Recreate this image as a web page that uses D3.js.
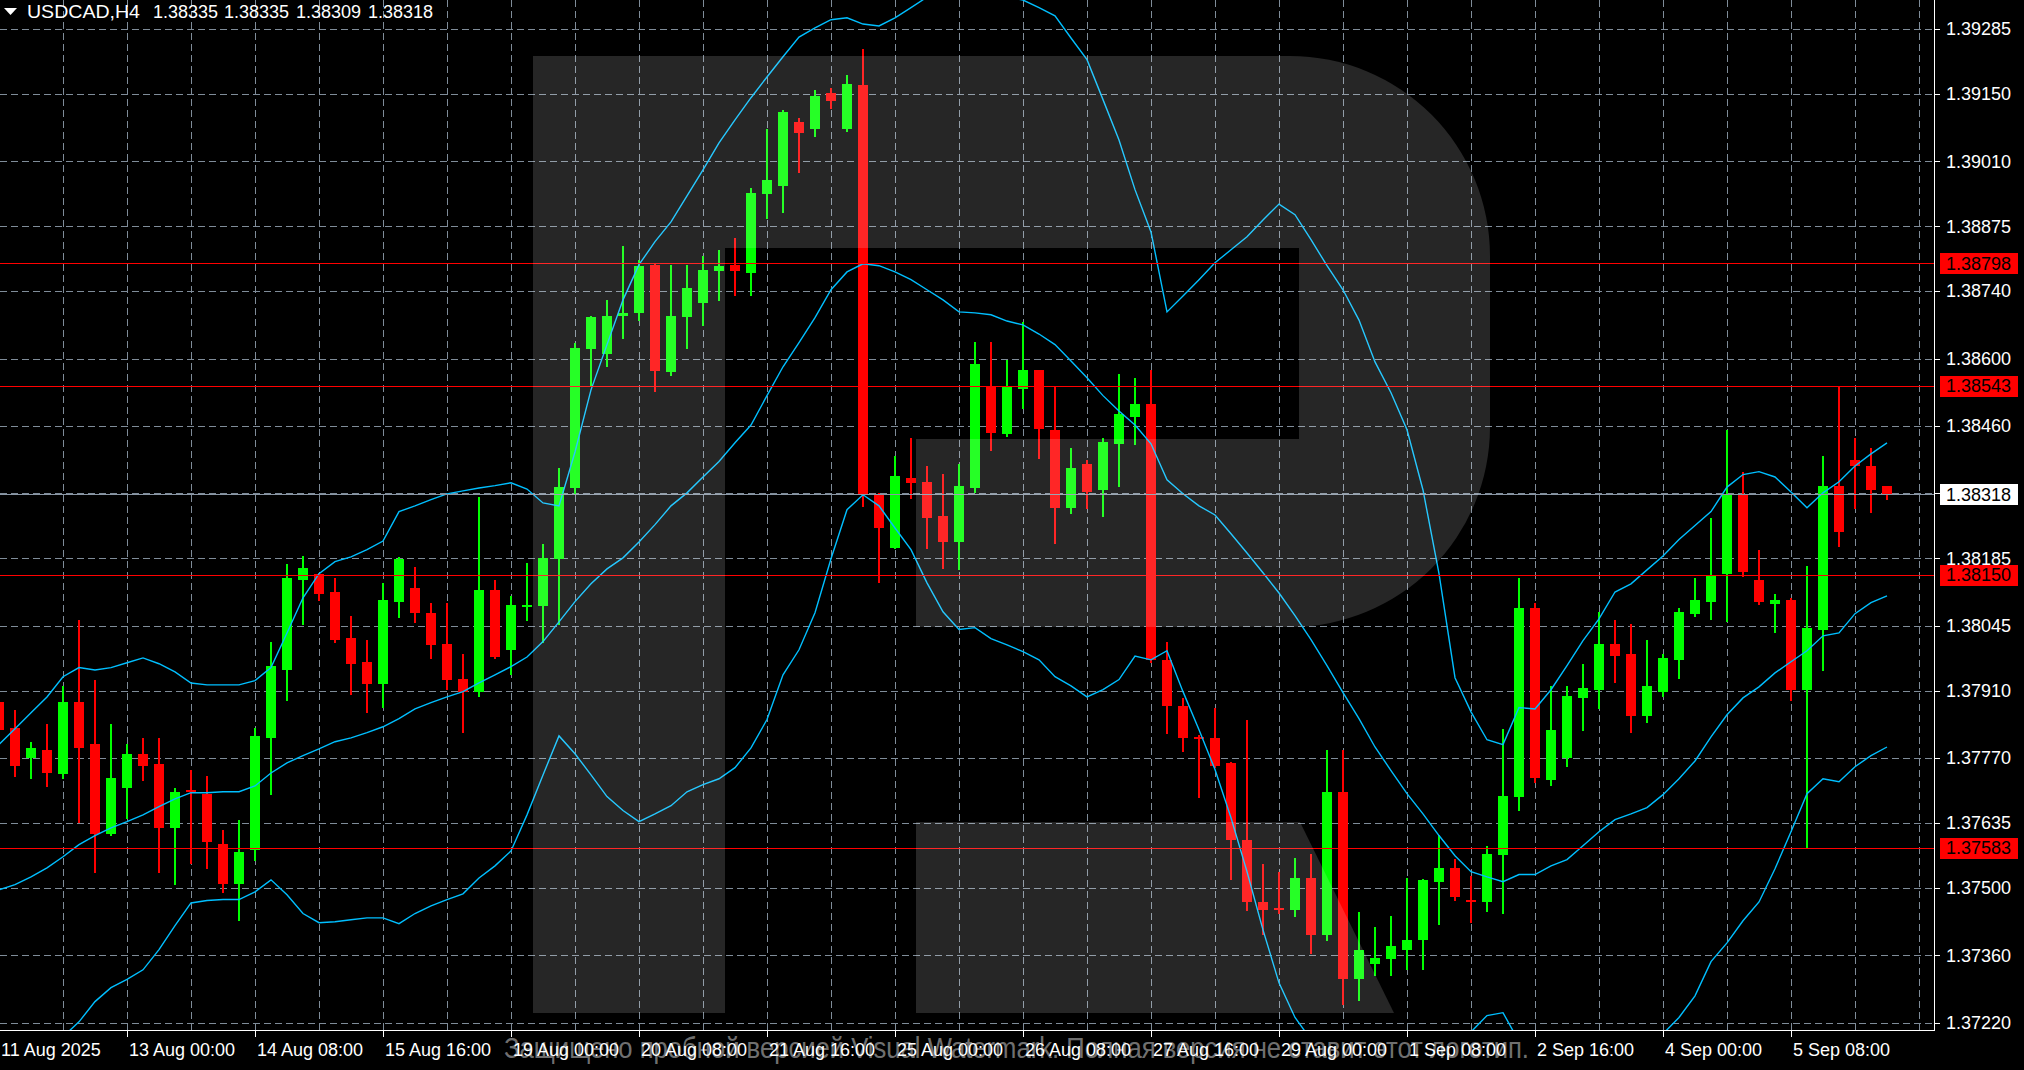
<!DOCTYPE html>
<html><head><meta charset="utf-8">
<script src="https://cdn.jsdelivr.net/npm/d3@7"></script>
<style>html,body{margin:0;padding:0;background:#000;overflow:hidden}</style>
</head><body>
<script>
// ---------- DATA ----------
const symbolTitle = "USDCAD,H4";
const headerPrices = ["1.38335", "1.38335", "1.38309", "1.38318"];

const open = [
1.37887,1.37833,1.37771,1.37787,1.37737,1.37887,1.37800,1.37613,1.37708,1.37779,
1.37758,1.37625,1.37704,1.37696,1.37592,1.37509,1.37580,1.37812,1.37953,1.38140,
1.38153,1.38115,1.38020,1.37970,1.37924,1.38095,1.38124,1.38072,1.38007,1.37935,
1.37908,1.38120,1.37995,1.38084,1.38086,1.38184,1.38331,1.38620,1.38610,1.38689,
1.38695,1.38795,1.38572,1.38687,1.38716,1.38782,1.38795,1.38778,1.38942,1.38959,
1.39092,1.39077,1.39152,1.39077,1.39169,1.38319,1.38207,1.38352,1.38344,1.38273,
1.38219,1.38331,1.38541,1.38444,1.38537,1.38577,1.38452,1.38290,1.38381,1.38327,
1.38423,1.38479,1.38506,1.37974,1.37879,1.37814,1.37812,1.37760,1.37600,1.37471,
1.37459,1.37455,1.37521,1.37403,1.37700,1.37310,1.37343,1.37353,1.37372,1.37391,
1.37513,1.37542,1.37476,1.37471,1.37569,1.37690,1.38082,1.37725,1.37771,1.37895,
1.37912,1.38007,1.37987,1.37858,1.37908,1.37974,1.38070,1.38095,1.38153,1.38319,
1.38140,1.38091,1.38099,1.37912,1.38037,1.38336,1.38390,1.38377,1.38335];

const high = [
1.37895,1.37870,1.37804,1.37841,1.37920,1.38057,1.37933,1.37841,1.37800,1.37812,
1.37812,1.37708,1.37746,1.37733,1.37621,1.37642,1.37833,1.38012,1.38174,1.38190,
1.38155,1.38145,1.38066,1.38016,1.38134,1.38188,1.38167,1.38093,1.38093,1.37987,
1.38313,1.38140,1.38107,1.38176,1.38215,1.38373,1.38633,1.38689,1.38722,1.38834,
1.38805,1.38798,1.38795,1.38795,1.38813,1.38826,1.38851,1.38955,1.39077,1.39117,
1.39100,1.39158,1.39162,1.39189,1.39243,1.38320,1.38398,1.38435,1.38377,1.38361,
1.38381,1.38635,1.38635,1.38597,1.38676,1.38577,1.38541,1.38415,1.38390,1.38435,
1.38568,1.38560,1.38577,1.38012,1.37895,1.37818,1.37875,1.37762,1.37850,1.37550,
1.37534,1.37563,1.37571,1.37787,1.37787,1.37451,1.37418,1.37442,1.37521,1.37518,
1.37611,1.37561,1.37525,1.37588,1.37831,1.38145,1.38093,1.37920,1.37920,1.37966,
1.38074,1.38057,1.38049,1.38016,1.37987,1.38082,1.38145,1.38269,1.38452,1.38365,
1.38203,1.38111,1.38103,1.38169,1.38398,1.38543,1.38435,1.38415,1.38335];

const low = [
1.37812,1.37733,1.37729,1.37712,1.37729,1.37638,1.37534,1.37611,1.37646,1.37725,
1.37534,1.37509,1.37552,1.37542,1.37492,1.37434,1.37559,1.37696,1.37891,1.38049,
1.38099,1.38012,1.37904,1.37866,1.37877,1.38064,1.38053,1.37978,1.37914,1.37825,
1.37899,1.37978,1.37945,1.38057,1.38012,1.38049,1.38321,1.38545,1.38585,1.38643,
1.38680,1.38533,1.38566,1.38622,1.38670,1.38722,1.38732,1.38732,1.38892,1.38905,
1.38988,1.39063,1.39121,1.39073,1.38294,1.38136,1.38206,1.38311,1.38207,1.38165,
1.38163,1.38323,1.38410,1.38440,1.38498,1.38394,1.38217,1.38280,1.38290,1.38273,
1.38336,1.38423,1.37970,1.37823,1.37785,1.37690,1.37752,1.37519,1.37455,1.37405,
1.37449,1.37442,1.37364,1.37393,1.37260,1.37268,1.37320,1.37320,1.37332,1.37332,
1.37426,1.37476,1.37430,1.37453,1.37449,1.37663,1.37721,1.37715,1.37754,1.37829,
1.37875,1.37929,1.37825,1.37845,1.37899,1.37937,1.38066,1.38059,1.38055,1.38149,
1.38091,1.38032,1.37891,1.37583,1.37953,1.38211,1.38290,1.38282,1.38309];

const close = [
1.37829,1.37754,1.37791,1.37739,1.37887,1.37791,1.37613,1.37729,1.37779,1.37754,
1.37625,1.37700,1.37700,1.37596,1.37509,1.37575,1.37816,1.37962,1.38145,1.38165,
1.38111,1.38016,1.37966,1.37924,1.38099,1.38184,1.38072,1.38005,1.37933,1.37908,
1.38120,1.37980,1.38088,1.38088,1.38186,1.38333,1.38622,1.38687,1.38689,1.38695,
1.38793,1.38575,1.38689,1.38747,1.38784,1.38793,1.38782,1.38944,1.38971,1.39113,
1.39069,1.39146,1.39135,1.39171,1.38319,1.38248,1.38356,1.38342,1.38269,1.38219,
1.38336,1.38589,1.38446,1.38541,1.38577,1.38454,1.38290,1.38373,1.38323,1.38427,
1.38485,1.38506,1.37974,1.37879,1.37812,1.37810,1.37754,1.37600,1.37471,1.37455,
1.37455,1.37521,1.37403,1.37700,1.37310,1.37372,1.37355,1.37380,1.37393,1.37517,
1.37542,1.37482,1.37471,1.37571,1.37692,1.38082,1.37729,1.37829,1.37899,1.37916,
1.38007,1.37982,1.37858,1.37920,1.37978,1.38074,1.38099,1.38151,1.38319,1.38157,
1.38095,1.38099,1.37912,1.38041,1.38336,1.38240,1.38377,1.38327,1.38318];

const bbUpper = [
1.37798,1.37831,1.37864,1.37897,1.37939,1.37958,1.37953,1.37958,1.37968,1.37978,
1.37966,1.37949,1.37926,1.37922,1.37922,1.37922,1.37931,1.37958,1.38030,1.38103,
1.38153,1.38178,1.38188,1.38203,1.38221,1.38282,1.38294,1.38307,1.38319,1.38325,
1.38331,1.38336,1.38342,1.38329,1.38300,1.38294,1.38406,1.38535,1.38629,1.38722,
1.38795,1.38843,1.38884,1.38938,1.38992,1.39048,1.39096,1.39142,1.39185,1.39227,
1.39268,1.39287,1.39304,1.39308,1.39295,1.39291,1.39308,1.39329,1.39351,1.39366,
1.39358,1.39354,1.39362,1.39351,1.39345,1.39329,1.39312,1.39266,1.39221,1.39138,
1.39054,1.38951,1.38863,1.38697,1.38730,1.38764,1.38799,1.38826,1.38853,1.38888,
1.38921,1.38899,1.38847,1.38793,1.38743,1.38680,1.38593,1.38529,1.38452,1.38327,
1.38153,1.37937,1.37866,1.37808,1.37798,1.37875,1.37872,1.37912,1.37962,1.38014,
1.38059,1.38115,1.38132,1.38161,1.38190,1.38224,1.38253,1.38282,1.38333,1.38359,
1.38365,1.38354,1.38323,1.38290,1.38321,1.38344,1.38377,1.38402,1.38425];

const bbMiddle = [
1.37496,1.37507,1.37523,1.37542,1.37565,1.37590,1.37609,1.37625,1.37638,1.37652,
1.37669,1.37685,1.37698,1.37698,1.37700,1.37700,1.37712,1.37739,1.37760,1.37775,
1.37789,1.37804,1.37812,1.37823,1.37835,1.37852,1.37872,1.37885,1.37897,1.37908,
1.37926,1.37943,1.37960,1.37980,1.38012,1.38053,1.38095,1.38132,1.38163,1.38186,
1.38219,1.38255,1.38294,1.38321,1.38354,1.38386,1.38425,1.38462,1.38523,1.38583,
1.38633,1.38685,1.38743,1.38780,1.38797,1.38793,1.38780,1.38764,1.38743,1.38722,
1.38697,1.38695,1.38691,1.38678,1.38670,1.38651,1.38629,1.38595,1.38560,1.38523,
1.38491,1.38462,1.38423,1.38348,1.38319,1.38294,1.38275,1.38236,1.38196,1.38155,
1.38113,1.38066,1.38016,1.37962,1.37906,1.37852,1.37793,1.37744,1.37696,1.37654,
1.37609,1.37567,1.37534,1.37523,1.37513,1.37528,1.37528,1.37546,1.37559,1.37588,
1.37617,1.37642,1.37654,1.37667,1.37694,1.37727,1.37764,1.37814,1.37860,1.37895,
1.37918,1.37947,1.37970,1.37993,1.38024,1.38030,1.38070,1.38093,1.38107];

const bbLower = [
1.37195,1.37183,1.37183,1.37187,1.37191,1.37222,1.37264,1.37293,1.37310,1.37330,
1.37372,1.37422,1.37469,1.37474,1.37476,1.37476,1.37492,1.37517,1.37486,1.37447,
1.37428,1.37430,1.37434,1.37438,1.37438,1.37426,1.37447,1.37463,1.37476,1.37488,
1.37521,1.37546,1.37577,1.37652,1.37735,1.37816,1.37779,1.37735,1.37690,1.37661,
1.37638,1.37654,1.37671,1.37700,1.37715,1.37727,1.37750,1.37791,1.37850,1.37943,
1.37995,1.38072,1.38184,1.38286,1.38317,1.38294,1.38248,1.38203,1.38134,1.38074,
1.38037,1.38041,1.38018,1.38005,1.37991,1.37974,1.37939,1.37920,1.37897,1.37912,
1.37933,1.37982,1.37974,1.37993,1.37908,1.37829,1.37746,1.37646,1.37534,1.37413,
1.37303,1.37231,1.37185,1.37131,1.37089,1.37023,1.36994,1.36958,1.36940,1.36981,
1.37085,1.37197,1.37201,1.37235,1.37241,1.37181,1.37183,1.37181,1.37156,1.37162,
1.37174,1.37168,1.37177,1.37172,1.37197,1.37231,1.37276,1.37347,1.37386,1.37432,
1.37471,1.37540,1.37617,1.37696,1.37727,1.37721,1.37752,1.37775,1.37793];

const priceTicks = [1.39285,1.39150,1.39010,1.38875,1.38740,1.38600,1.38460,1.38320,
                    1.38185,1.38045,1.37910,1.37770,1.37635,1.37500,1.37360,1.37220];
const levelLines = [1.38798, 1.38543, 1.38150, 1.37583];
const currentPrice = 1.38318;

const timeLabels = ["11 Aug 2025","13 Aug 00:00","14 Aug 08:00","15 Aug 16:00","19 Aug 00:00",
  "20 Aug 08:00","21 Aug 16:00","25 Aug 00:00","26 Aug 08:00","27 Aug 16:00","29 Aug 00:00",
  "1 Sep 08:00","2 Sep 16:00","4 Sep 00:00","5 Sep 08:00"];
const timeLabelBars = [0,8,16,24,32,40,48,56,64,72,80,88,96,104,112];

const watermarkText = "Защищено пробной версией Visual Watermark. Полная версия не ставит этот логотип.";

// ---------- LAYOUT ----------
const W = 2024, H = 1070;
const plotR = 1934, plotB = 1030;
const FONT = "'Liberation Sans', Arial, sans-serif";
const BULL = "#00ff00", BEAR = "#ff0000", BAND = "#00bfff", GRID = "#7f8c99";

const x = d3.scaleLinear().domain([0, 120]).range([-1, 1919]);
const y = d3.scaleLinear().domain([1.39345, 1.37205]).range([0, plotB]);

const svg = d3.select("body").append("svg")
  .attr("width", W).attr("height", H).style("display","block");
svg.append("rect").attr("width", W).attr("height", H).attr("fill", "#000");

svg.append("defs").append("clipPath").attr("id","plotClip")
  .append("rect").attr("x",0).attr("y",0).attr("width",plotR).attr("height",plotB);

const plot = svg.append("g").attr("clip-path","url(#plotClip)");

// grid
const gridG = plot.append("g").attr("shape-rendering","crispEdges");
gridG.selectAll("line.h").data(priceTicks).join("line")
  .attr("x1",0).attr("x2",plotR)
  .attr("y1",d=>Math.round(y(d))+0.5).attr("y2",d=>Math.round(y(d))+0.5)
  .attr("stroke",GRID).attr("stroke-width",1).attr("stroke-dasharray","7,4");
gridG.selectAll("line.v").data(d3.range(4, 124, 4)).join("line")
  .attr("x1",d=>Math.round(x(d))+0.5).attr("x2",d=>Math.round(x(d))+0.5)
  .attr("y1",0).attr("y2",plotB)
  .attr("stroke",GRID).attr("stroke-width",1).attr("stroke-dasharray","7,4");

// candles
const bars = d3.range(open.length).map(i => ({i, o:open[i], h:high[i], l:low[i], c:close[i]}));
const cg = plot.append("g").attr("shape-rendering","crispEdges");
cg.selectAll("rect.wick").data(bars).join("rect")
  .attr("x", d => Math.round(x(d.i)) - 1).attr("width", 2)
  .attr("y", d => Math.round(y(d.h)))
  .attr("height", d => Math.max(1, Math.round(y(d.l)) - Math.round(y(d.h)) + 1))
  .attr("fill", d => d.c >= d.o ? BULL : BEAR);
cg.selectAll("rect.body").data(bars).join("rect")
  .attr("x", d => Math.round(x(d.i)) - 5).attr("width", 10)
  .attr("y", d => Math.round(y(Math.max(d.o, d.c))))
  .attr("height", d => Math.max(2, Math.round(y(Math.min(d.o, d.c))) - Math.round(y(Math.max(d.o, d.c)))))
  .attr("fill", d => d.c >= d.o ? BULL : BEAR);

// bollinger bands
const line = d3.line().x((d,i) => x(i)).y(d => y(d));
[bbUpper, bbMiddle, bbLower].forEach(arr => {
  plot.append("path").attr("d", line(arr)).attr("fill","none")
    .attr("stroke", BAND).attr("stroke-width", 1.4);
});

// level lines and current price line
const lg = plot.append("g").attr("shape-rendering","crispEdges");
lg.selectAll("line").data(levelLines).join("line")
  .attr("x1",0).attr("x2",plotR)
  .attr("y1",d=>Math.round(y(d))+0.5).attr("y2",d=>Math.round(y(d))+0.5)
  .attr("stroke","#ff0000").attr("stroke-width",1);
lg.append("line").attr("x1",0).attr("x2",plotR)
  .attr("y1",Math.round(y(currentPrice))+0.5).attr("y2",Math.round(y(currentPrice))+0.5)
  .attr("stroke","#8a97a6").attr("stroke-width",1);

// R watermark logo overlay (semi-transparent white)
const logo = plot.append("g").attr("fill","#ffffff").attr("fill-opacity",0.15);
logo.append("path").attr("fill-rule","evenodd")
  .attr("d","M533,56 H1290 A200,200 0 0 1 1490,256 V427 A200,200 0 0 1 1290,627 H916 V439 H725 V1013 H533 Z " +
            "M725,248 H1299 V439 H725 Z");
logo.append("path").attr("d","M916,822 H1300 L1394,1013 H916 Z");

// axes
const ax = svg.append("g").attr("shape-rendering","crispEdges");
ax.append("line").attr("x1",plotR+0.5).attr("x2",plotR+0.5).attr("y1",0).attr("y2",plotB+1)
  .attr("stroke","#fff").attr("stroke-width",1.5);
ax.append("line").attr("x1",0).attr("x2",plotR+1).attr("y1",plotB+0.5).attr("y2",plotB+0.5)
  .attr("stroke","#fff").attr("stroke-width",1.5);

// price axis ticks & labels
ax.selectAll("line.pt").data(priceTicks).join("line")
  .attr("x1",plotR+1).attr("x2",plotR+6)
  .attr("y1",d=>Math.round(y(d))+0.5).attr("y2",d=>Math.round(y(d))+0.5)
  .attr("stroke","#fff");
svg.append("g").selectAll("text").data(priceTicks).join("text")
  .attr("x",1946).attr("y",d=>y(d)).attr("dy","0.35em")
  .attr("fill","#fff").attr("font-family",FONT).attr("font-size",18)
  .text(d => d.toFixed(5));

// time axis ticks & labels
ax.selectAll("line.tt").data(timeLabelBars.slice(1)).join("line")
  .attr("x1",d=>Math.round(x(d))+0.5).attr("x2",d=>Math.round(x(d))+0.5)
  .attr("y1",plotB+1).attr("y2",plotB+7).attr("stroke","#fff");
svg.append("g").selectAll("text").data(timeLabels).join("text")
  .attr("x",(d,i)=> Math.max(1, Math.round(x(timeLabelBars[i])) + 2))
  .attr("y",1056)
  .attr("fill","#fff").attr("font-family",FONT).attr("font-size",18)
  .text(d=>d);

// level labels (red boxes) and current price box
const boxes = svg.append("g");
const boxData = levelLines.map(v => ({v, bg:"#ff0000"})).concat([{v:currentPrice, bg:"#ffffff"}]);
boxes.selectAll("rect").data(boxData).join("rect")
  .attr("x",1940).attr("width",78).attr("y",d=>Math.round(y(d.v))-10).attr("height",21)
  .attr("fill",d=>d.bg).attr("shape-rendering","crispEdges");
boxes.selectAll("text").data(boxData).join("text")
  .attr("x",1946).attr("y",d=>y(d.v)).attr("dy","0.35em")
  .attr("fill","#000").attr("font-family",FONT).attr("font-size",18)
  .text(d=>d.v.toFixed(5));

// header
svg.append("path").attr("d","M4,8 H17 L10.5,15 Z").attr("fill","#fff");
svg.append("text").attr("x",27).attr("y",18).attr("fill","#fff")
  .attr("font-family",FONT).attr("font-size",18)
  .attr("textLength",113).attr("lengthAdjust","spacingAndGlyphs").text(symbolTitle);
const headerX = [153, 224, 296, 368];
svg.append("g").selectAll("text").data(headerPrices).join("text")
  .attr("x",(d,i)=>headerX[i]).attr("y",18).attr("fill","#fff")
  .attr("font-family",FONT).attr("font-size",18).text(d=>d);

// watermark text
svg.append("text").attr("x",504).attr("y",1058)
  .attr("fill","#ffffff").attr("fill-opacity",0.45)
  .attr("font-family",FONT).attr("font-size",29)
  .attr("textLength",1025).attr("lengthAdjust","spacingAndGlyphs")
  .text(watermarkText);
</script>
</body></html>
